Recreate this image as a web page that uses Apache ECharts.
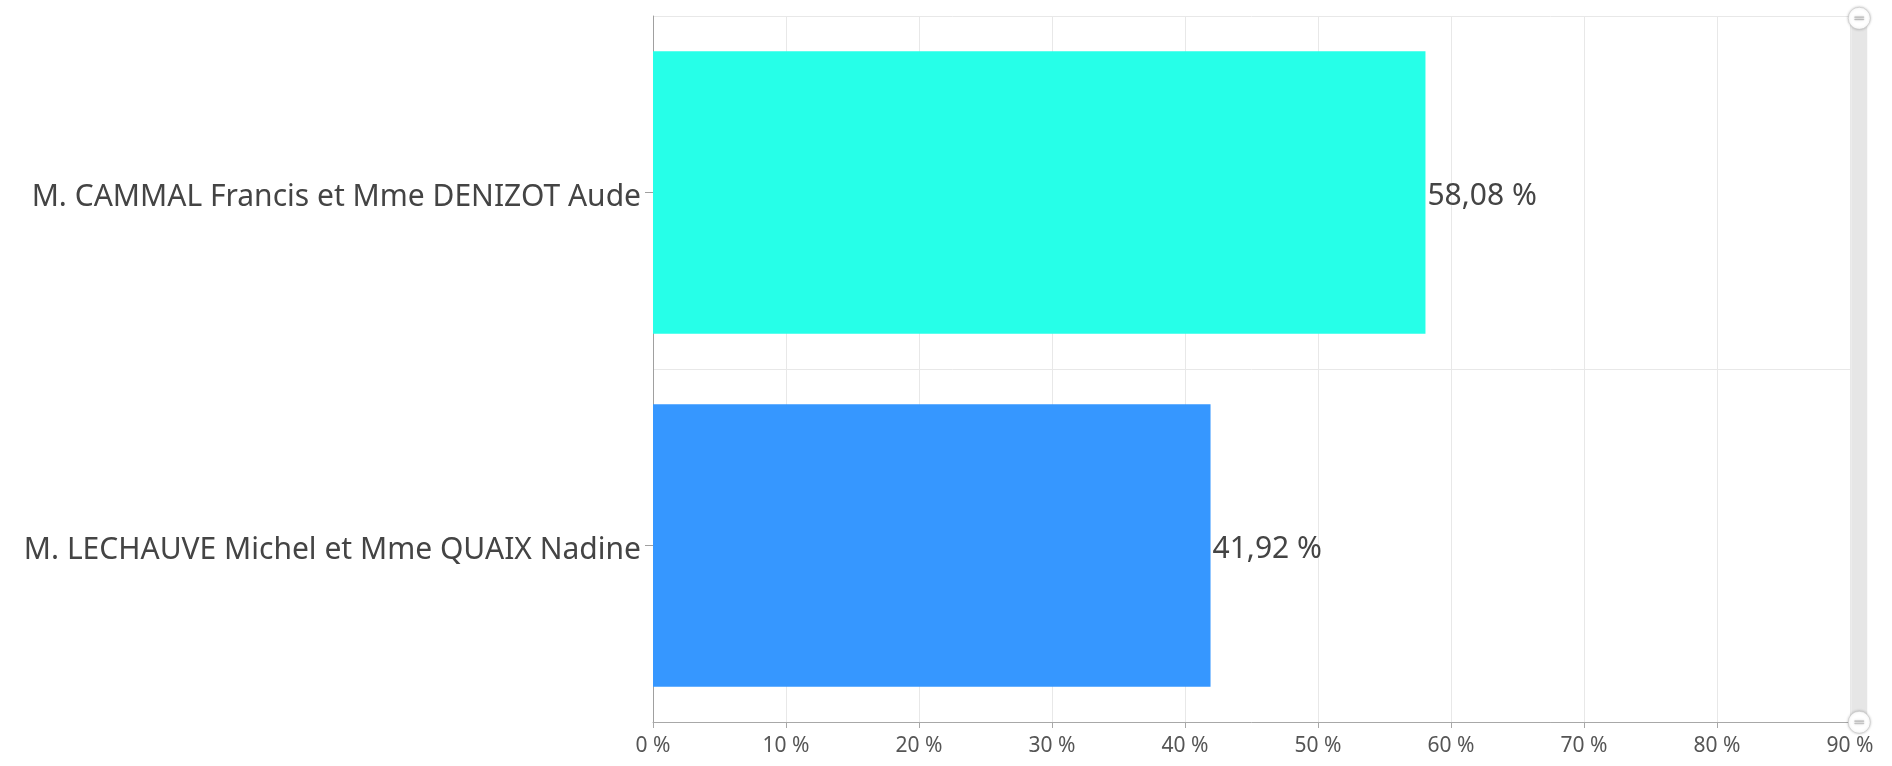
<!DOCTYPE html>
<html>
<head>
<meta charset="utf-8">
<script src="https://cdn.jsdelivr.net/npm/echarts@6/dist/echarts.min.js"></script>
<style>
html,body{margin:0;padding:0;background:#fff;}
#c{width:1892px;height:766px;}
</style>
</head>
<body>
<div id="c"></div>
<script>
var categories = ["M. CAMMAL Francis et Mme DENIZOT Aude", "M. LECHAUVE Michel et Mme QUAIX Nadine"];
var values = [58.08, 41.92];
var barColors = ["#26FFE8", "#3697FF"];
var tickMax = 90;
var tickStep = 10;

var chart = echarts.init(document.getElementById('c'));
chart.setOption({
  animation: false,
  grid: {left: 653, right: 42, top: 16, bottom: 44, containLabel: false},
  xAxis: {
    type: 'value', min: 0, max: tickMax, interval: tickStep,
    axisLine: {show: true, lineStyle: {color: '#a8a8a8'}},
    axisTick: {show: true, length: 6, lineStyle: {color: '#a8a8a8'}},
    axisLabel: {color: '#555', fontFamily: 'Noto Sans', fontSize: 21, margin: 14,
      formatter: function(v){ return v + ' %'; }},
    splitLine: {show: true, lineStyle: {color: '#e8e8e8'}}
  },
  yAxis: {
    type: 'category', data: categories, inverse: true,
    axisLine: {show: true, lineStyle: {color: '#a0a0a0'}},
    axisTick: {show: true, alignWithLabel: true, length: 8, lineStyle: {color: '#a0a0a0'}},
    axisLabel: {color: '#444', fontFamily: 'Noto Sans', fontSize: 30, margin: 12,
      formatter: function(v){ return '{a|' + v + '}'; },
      rich: {a: {color: '#444', fontFamily: 'Noto Sans', fontSize: 30, padding: [9, 0, 0, 0]}}},
    splitLine: {show: true, lineStyle: {color: '#e8e8e8'}}
  },
  dataZoom: [{
    type: 'slider', yAxisIndex: 0, orient: 'vertical',
    right: 25, top: 16, bottom: 44, width: 16,
    showDetail: false, brushSelect: false, moveHandleSize: 0,
    showDataShadow: false,
    borderColor: 'transparent',
    backgroundColor: 'rgba(0,0,0,0)',
    fillerColor: '#e6e6e6',
    dataBackground: {lineStyle: {opacity: 0}, areaStyle: {opacity: 0}},
    handleIcon: 'path://M512,0A512,512,0,1,0,512,1024A512,512,0,1,0,512,0ZM440,300L480,300L480,724L440,724ZM544,300L584,300L584,724L544,724Z',
    handleSize: 22,
    handleStyle: {color: '#fff', borderColor: '#bbb', borderWidth: 0.5, shadowBlur: 3, shadowColor: 'rgba(0,0,0,0.25)'},
    start: 0, end: 100
  }],
  series: [{
    type: 'bar',
    barCategoryGap: '20%',
    data: values.map(function(v, i){ return {value: v, itemStyle: {color: barColors[i]}}; }),
    label: {
      show: true, position: 'right', distance: 2, offset: [0, 4],
      color: '#444', fontFamily: 'Noto Sans', fontSize: 30,
      formatter: function(p){ return p.value.toFixed(2).replace('.', ',') + ' %'; }
    }
  }]
});
</script>
</body>
</html>
